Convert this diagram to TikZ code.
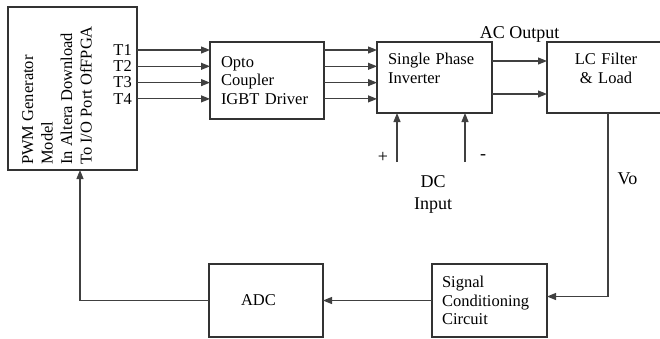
\documentclass[tikz,border=0pt]{standalone}
\usepackage{fontspec}
\setmainfont{Liberation Serif}
\usepackage{tikz}
\usetikzlibrary{arrows.meta, positioning}
\tikzset{
  block/.style={rectangle, draw=black!80, line width=1.1pt, outer sep=0pt,
    align=left, font=\fontsize{16.5}{18.5}\selectfont},
  tlab/.style={inner sep=0pt, font=\fontsize{16.5}{18.5}\selectfont},
  lbl/.style={inner sep=0pt, font=\fontsize{18}{22}\selectfont},
  arrow/.style={-{Triangle[length=9pt,width=7pt]}, draw=black!75, line width=1.1pt}
}
\begin{document}
\begin{tikzpicture}[x=1pt, y=-1pt]
\useasboundingbox (0,0) rectangle (660,338);
\node (pwm)    [block, anchor=north west, minimum width=129pt, minimum height=163pt] at (8,7) {};
\node (pwmtxt) [inner sep=0pt, align=left, font=\fontsize{16.5}{19.5}\selectfont,
                anchor=north west, rotate=90] at ([xshift=14pt,yshift=5pt]pwm.south west)
               {PWM Generator\\Model\\In Altera Download\\To I/O Port OfFPGA};
\node (t1)     [tlab, below left=43pt and 5pt of pwm.north east, anchor=east] {T1};
\node (t2)     [tlab, below=16.3pt of t1.east, anchor=east] {T2};
\node (t3)     [tlab, below=16.3pt of t2.east, anchor=east] {T3};
\node (t4)     [tlab, below=16.3pt of t3.east, anchor=east] {T4};
\node (opto)   [block, below right=35pt and 73pt of pwm.north east,
                minimum width=114pt, minimum height=77pt, text width=92pt] {Opto\\Coupler\\IGBT Driver};
\node (inv)    [block, right=53pt of opto.north east, anchor=north west,
                minimum width=115pt, minimum height=71pt, text width=93pt] {Single Phase\\Inverter\\\mbox{}};
\node (lc)     [block, right=55pt of inv.north east, anchor=north west, align=center,
                minimum width=118pt, minimum height=71pt, text width=96pt] {LC Filter\\\& Load\\\mbox{}};
\node (sig)    [block, below=151pt of lc.south west, anchor=north east,
                minimum width=115pt, minimum height=73pt, text width=95pt] {Signal\\Conditioning\\Circuit};
\node (adc)    [block, left=109pt of sig,
                minimum width=114pt, minimum height=73pt, text width=50pt] {ADC};
\node (dcp)    [coordinate, below right=49pt and 20pt of inv.south west] {};
\node (dcm)    [coordinate, below left=49pt and 27pt of inv.south east] {};
\node (dcin)   [lbl, align=center, below right=62pt and 56pt of inv.south west, anchor=north] {DC\\Input};

\draw [arrow] (t1.east -| pwm.east) -- (t1.east -| opto.west);
\draw [arrow] (t2.east -| pwm.east) -- (t2.east -| opto.west);
\draw [arrow] (t3.east -| pwm.east) -- (t3.east -| opto.west);
\draw [arrow] (t4.east -| pwm.east) -- (t4.east -| opto.west);
\draw [arrow] (t1.east -| opto.east) -- (t1.east -| inv.west);
\draw [arrow] (t2.east -| opto.east) -- (t2.east -| inv.west);
\draw [arrow] (t3.east -| opto.east) -- (t3.east -| inv.west);
\draw [arrow] (t4.east -| opto.east) -- (t4.east -| inv.west);
\draw [arrow] ([yshift=-19pt]inv.north east) -- node[lbl, above=18pt]{AC Output}
              ([yshift=-19pt]lc.north west);
\draw [arrow] ([yshift=-52pt]inv.north east) -- ([yshift=-52pt]lc.north west);
\draw [arrow] (dcp) node[lbl, xshift=-14pt, yshift=5pt]{+} -- (dcp |- inv.south);
\draw [arrow] (dcm) node[lbl, xshift=18pt, yshift=5pt]{-} -- (dcm |- inv.south);
\draw [arrow] ([xshift=61pt]lc.south west) |- node[lbl, pos=0.18, right=9pt]{Vo}
              ([yshift=4pt]sig.east);
\draw [arrow] (sig) -- (adc);
\draw [arrow] (adc.west) -| ([xshift=72pt]pwm.south west);
\end{tikzpicture}
\end{document}
